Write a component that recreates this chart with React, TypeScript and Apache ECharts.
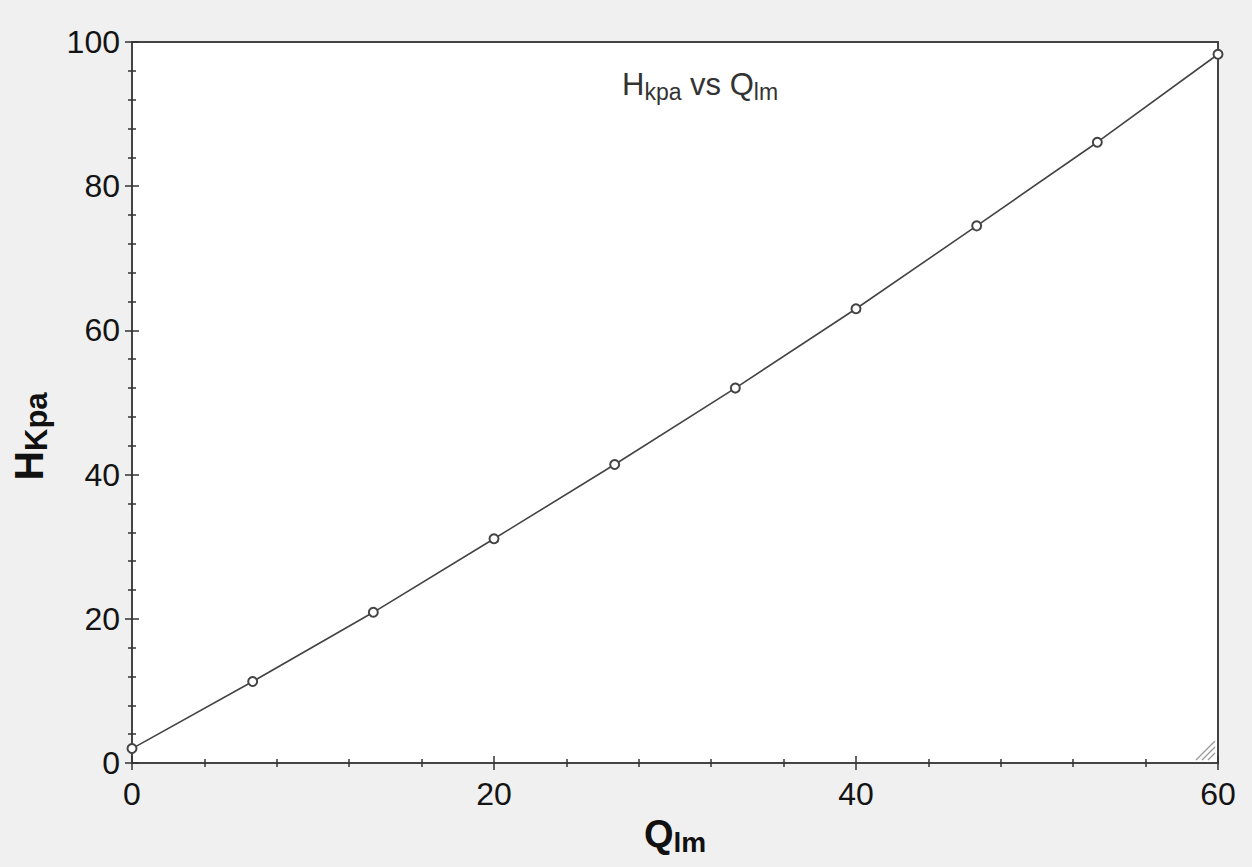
import React, { useEffect, useRef } from "react";
import * as echarts from "echarts";

const qValues: number[] = [0, 6.667, 13.333, 20, 26.667, 33.333, 40, 46.667, 53.333, 60];
const hValues: number[] = [2.0, 11.3, 20.9, 31.1, 41.4, 52.0, 63.0, 74.5, 86.1, 98.3];
const xRange = { min: 0, max: 60, interval: 20 };
const yRange = { min: 0, max: 100, interval: 20 };

const FONT = "'Liberation Sans', Arial, sans-serif";

export default function App() {
  const ref = useRef<HTMLDivElement>(null);
  useEffect(() => {
    if (!ref.current) return;
    const chart = echarts.init(ref.current, undefined, { renderer: "svg" });
    const tickCommon = {
      axisLine: { show: false },
      axisTick: { show: true, inside: true, length: 7, lineStyle: { color: "#333", width: 1.5 } },
      minorTick: { show: true, splitNumber: 5, length: 4, lineStyle: { color: "#333", width: 1.5 } },
      splitLine: { show: false },
      minorSplitLine: { show: false },
    };
    const labelStyle = { fontFamily: FONT, fontSize: 32, color: "#141414" };
    chart.setOption({
      animation: false,
      backgroundColor: "#f0f0f0",
      grid: {
        left: 132,
        right: 34,
        top: 42,
        bottom: 104,
        show: true,
        backgroundColor: "#ffffff",
        borderColor: "#444",
        borderWidth: 2,
      },
      graphic: [
        {
          type: "text",
          left: 622,
          top: 69,
          style: {
            text: "{a|H}{b|kpa}{a| vs Q}{b|lm}",
            fill: "#333",
            rich: {
              a: { fontFamily: FONT, fontSize: 31, lineHeight: 38, fill: "#333" },
              b: { fontFamily: FONT, fontSize: 23, lineHeight: 23, verticalAlign: "bottom", fill: "#333" },
            },
          },
        },
        { type: "line", shape: { x1: 1196, y1: 760, x2: 1215, y2: 741 }, style: { stroke: "#999", lineWidth: 1.2 } },
        { type: "line", shape: { x1: 1202, y1: 760, x2: 1215, y2: 747 }, style: { stroke: "#999", lineWidth: 1.2 } },
        { type: "line", shape: { x1: 1208, y1: 760, x2: 1215, y2: 753 }, style: { stroke: "#999", lineWidth: 1.2 } },
      ],
      xAxis: [
        {
          type: "value",
          ...xRange,
          position: "bottom",
          ...tickCommon,
          axisLabel: { ...labelStyle, margin: 15 },
          name: "{a|Q}{b|lm}",
          nameLocation: "middle",
          nameGap: 49,
          nameTextStyle: {
            rich: {
              a: { fontFamily: FONT, fontSize: 38, fontWeight: "bold", lineHeight: 44, color: "#111" },
              b: { fontFamily: FONT, fontSize: 28, fontWeight: "bold", lineHeight: 28, verticalAlign: "bottom", color: "#111" },
            },
          },
        },
        {
          type: "value",
          ...xRange,
          position: "top",
          ...tickCommon,
          axisLabel: { show: false },
        },
      ],
      yAxis: [
        {
          type: "value",
          ...yRange,
          position: "left",
          ...tickCommon,
          axisLabel: { ...labelStyle, margin: 12 },
          name: "{a|H}{b|Kpa}",
          nameLocation: "middle",
          nameGap: 80,
          nameTextStyle: {
            padding: [0, 68, 0, 0],
            rich: {
              a: { fontFamily: FONT, fontSize: 41, fontWeight: "bold", lineHeight: 46, color: "#111" },
              b: { fontFamily: FONT, fontSize: 31, fontWeight: "bold", lineHeight: 31, verticalAlign: "bottom", color: "#111" },
            },
          },
        },
        {
          type: "value",
          ...yRange,
          position: "right",
          ...tickCommon,
          axisLabel: { show: false },
        },
      ],
      series: [
        {
          type: "line",
          xAxisIndex: 0,
          yAxisIndex: 0,
          data: qValues.map((q, i) => [q, hValues[i]]),
          symbol: "emptyCircle",
          symbolSize: 9,
          lineStyle: { color: "#444", width: 1.6 },
          itemStyle: { color: "#444", borderWidth: 1.5 },
        },
      ],
    });
    return () => chart.dispose();
  }, []);
  return (
    <div
      ref={ref}
      style={{ position: "fixed", left: 0, top: 0, width: 1252, height: 867 }}
    />
  );
}
